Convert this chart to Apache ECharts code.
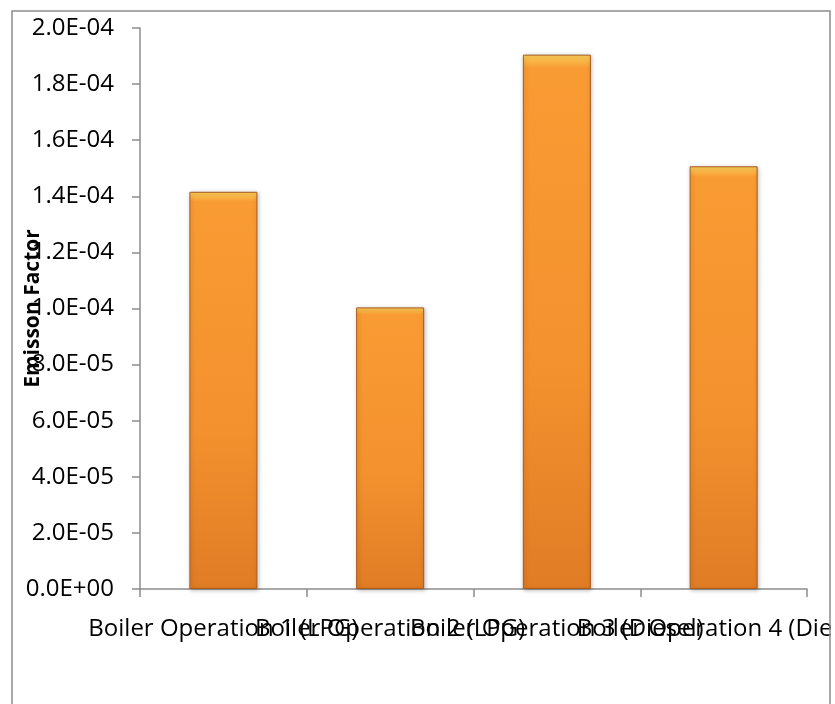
<!DOCTYPE html>
<html>
<head>
<meta charset="utf-8">
<script src="https://cdn.jsdelivr.net/npm/echarts@6/dist/echarts.min.js"></script>
<style>
html,body{margin:0;padding:0;background:#fff;}
#c{width:831px;height:704px;}
</style>
</head>
<body>
<div id="c"></div>
<script>
var categories = ['Boiler Operation 1 (LPG)', 'Boiler Operation 2 (LPG)', 'Boiler Operation 3 (Diesel)', 'Boiler Operation 4 (Diesel)'];
var emissionFactor = [1.416e-4, 1.004e-4, 1.905e-4, 1.507e-4];
var yMin = 0, yMax = 2.0e-4, yStep = 2.0e-5;

function sci(v) {
  var s = Number(v).toExponential(1);
  var m = s.split('e');
  var exp = parseInt(m[1], 10);
  var sign = exp < 0 ? '-' : '+';
  var a = Math.abs(exp);
  return m[0] + 'E' + sign + (a < 10 ? '0' + a : '' + a);
}

var chart = echarts.init(document.getElementById('c'), null, {renderer: 'canvas'});
var font = 'Open Sans';
chart.setOption({
  animation: false,
  backgroundColor: '#ffffff',
  graphic: [{
    type: 'rect',
    shape: {x: 12, y: 11, width: 818, height: 720},
    style: {fill: 'none', stroke: '#8c8c8c', lineWidth: 1.5},
    z: 100
  }],
  grid: {left: 140, top: 28, right: 24, bottom: 115, containLabel: false, outerBoundsMode: 'none'},
  xAxis: {
    type: 'category',
    data: categories,
    boundaryGap: true,
    axisLine: {lineStyle: {color: '#8c8c8c', width: 1.5}},
    axisTick: {show: true, length: 8, alignWithLabel: false, lineStyle: {color: '#8c8c8c', width: 1.5}},
    axisLabel: {interval: 0, hideOverlap: false, margin: 28, color: '#000', fontFamily: font, fontSize: 24}
  },
  yAxis: {
    type: 'value',
    min: yMin, max: yMax, interval: yStep,
    name: 'Emisson Factor',
    nameLocation: 'middle',
    nameGap: 96,
    nameRotate: 90,
    nameMoveOverlap: false,
    nameTextStyle: {color: '#000', fontFamily: font, fontSize: 21, fontWeight: 'bold'},
    splitLine: {show: false},
    axisLine: {show: true, lineStyle: {color: '#8c8c8c', width: 1.5}},
    axisTick: {show: true, length: 8, lineStyle: {color: '#8c8c8c', width: 1.5}},
    axisLabel: {margin: 26, color: '#000', fontFamily: font, fontSize: 24, formatter: sci}
  },
  series: [{
    type: 'bar',
    data: emissionFactor,
    barWidth: 68,
    itemStyle: {
      color: new echarts.graphic.LinearGradient(0, 0, 0, 1, [
        {offset: 0, color: '#fbd05a'},
        {offset: 0.025, color: '#f99b33'},
        {offset: 0.6, color: '#f3912e'},
        {offset: 1, color: '#e07c25'}
      ]),
      borderColor: '#a85c1c',
      borderWidth: 1,
      shadowColor: 'rgba(0,0,0,0.25)',
      shadowBlur: 4,
      shadowOffsetX: 1,
      shadowOffsetY: 1
    }
  }]
});
</script>
</body>
</html>
